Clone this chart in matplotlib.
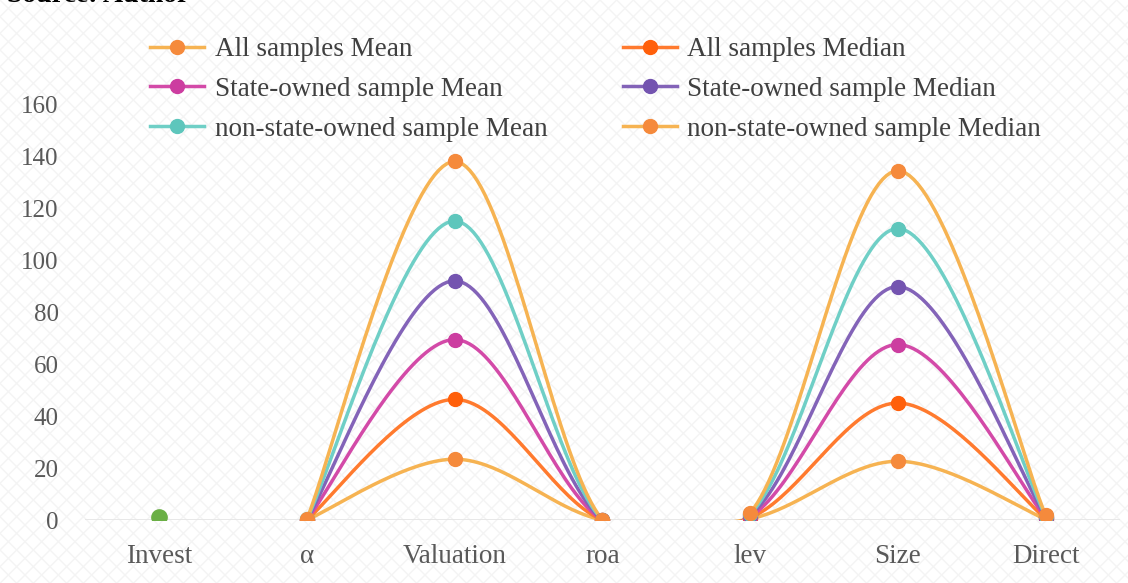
import numpy as np
import matplotlib.pyplot as plt
from matplotlib.patches import Rectangle

# categories and values (stacked, as in the source chart)
categories = ['Invest', 'α', 'Valuation', 'roa', 'lev', 'Size', 'Direct']
series_names = ['All samples Mean', 'All samples Median',
                'State-owned sample Mean', 'State-owned sample Median',
                'non-state-owned sample Mean', 'non-state-owned sample Median']

# values per series from alpha to Direct (Invest has no line)
all_mean = [0.05, 23.4, 0.02, 0.45, 22.6, 0.3]
all_median = [0.05, 23.0, 0.02, 0.45, 22.4, 0.3]
soe_mean = [0.05, 23.0, 0.02, 0.45, 22.5, 0.3]
soe_median = [0.05, 22.6, 0.02, 0.45, 22.3, 0.3]
nsoe_mean = [0.05, 23.0, 0.02, 0.45, 22.3, 0.3]
nsoe_median = [0.05, 22.9, 0.02, 0.45, 22.2, 0.3]
invest_value = 1.1

line_colors = ['#F6B352', '#FF7A2E', '#D34AA8', '#8363B8', '#6FCFC6', '#F6B352']
marker_colors = ['#F58A3C', '#FF5F0A', '#CC3DA0', '#7454B0', '#5EC6BC', '#F58A3C']


def smooth(x, y, n=40):
    # excel-like smoothed line (bezier through the points)
    x = np.asarray(x, float)
    y = np.asarray(y, float)
    px = np.concatenate([[x[0]], x, [x[-1]]])
    py = np.concatenate([[y[0]], y, [y[-1]]])
    xs, ys = [], []
    t = np.linspace(0, 1, n)
    for i in range(1, len(px) - 2):
        p0 = np.array([px[i], py[i]])
        p3 = np.array([px[i + 1], py[i + 1]])
        c1 = p0 + (np.array([px[i + 1], py[i + 1]]) - np.array([px[i - 1], py[i - 1]])) / 6
        c2 = p3 - (np.array([px[i + 2], py[i + 2]]) - np.array([px[i], py[i]])) / 6
        b = ((1 - t) ** 3)[:, None] * p0 + (3 * (1 - t) ** 2 * t)[:, None] * c1 \
            + (3 * (1 - t) * t ** 2)[:, None] * c2 + (t ** 3)[:, None] * p3
        xs.append(b[:, 0])
        ys.append(b[:, 1])
    return np.concatenate(xs), np.concatenate(ys)


plt.rcParams['font.family'] = ['Liberation Serif', 'DejaVu Serif']

fig = plt.figure(figsize=(11.28, 5.83), dpi=100)
fig.patches.append(Rectangle((0, 0), 1, 1, transform=fig.transFigure,
                             facecolor='white', edgecolor='#f4f4f4',
                             hatch='xx', linewidth=0, zorder=-10))
# title line of the source page, cut at the top edge as in the reference
fig.text(0.006, 0.996, 'Source: Author', fontsize=20, fontweight='bold',
         va='baseline', ha='left')

ax = fig.add_axes([0.0755, 0.108, 0.917, 0.7136])
ax.set_facecolor('none')

x = np.arange(1, len(categories))
stack = np.zeros(len(x))
data = [all_mean, all_median, soe_mean, soe_median, nsoe_mean, nsoe_median]
handles = []
for vals, name, lc, mc in zip(data, series_names, line_colors, marker_colors):
    stack = stack + np.array(vals)
    sx, sy = smooth(x, stack)
    ax.plot(sx, sy, color=lc, lw=2.5, solid_capstyle='round', zorder=3)
    ax.plot(x, stack, 'o', color=mc, ms=10, zorder=4)
    h, = ax.plot([], [], '-o', color=lc, mfc=mc, mec=mc, lw=2.5, ms=10, label=name)
    handles.append(h)

ax.plot([0], [invest_value], 'o', color='#6AAF45', ms=11, zorder=5)

ax.axhline(0, color='#e6e6e6', lw=2, zorder=1)

ax.set_xlim(-0.5, len(categories) - 0.5)
ax.set_ylim(0, 160)
ax.set_yticks(range(0, 161, 20))
ax.set_xticks(range(len(categories)))
ax.set_xticklabels(categories)
ax.tick_params(axis='both', length=0, colors='#595959')
ax.tick_params(axis='y', pad=19, labelsize=18)
ax.tick_params(axis='x', pad=17, labelsize=19.5)
for s in ax.spines.values():
    s.set_visible(False)

leg = ax.legend(handles=[handles[0], handles[2], handles[4], handles[1], handles[3], handles[5]],
                ncol=2, loc='upper left', bbox_to_anchor=(0.063, 1.161),
                frameon=False, fontsize=19.5, handlelength=2.0, handletextpad=0.37,
                columnspacing=2.8, labelspacing=0.55, labelcolor='#404040',
                borderpad=0, borderaxespad=0)

fig.savefig('out.png', dpi=100)
